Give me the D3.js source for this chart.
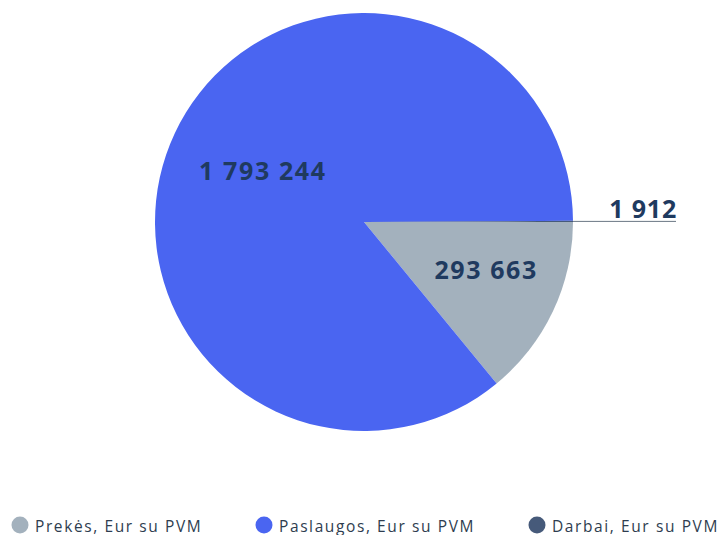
<!DOCTYPE html>
<html><head><meta charset="utf-8">
<script src="https://cdn.jsdelivr.net/npm/d3@7"></script>
<style>body{margin:0;background:#fff}svg{display:block}</style>
</head><body><svg id="c" width="722" height="535"></svg>
<script>
const categories = ["Prekės, Eur su PVM", "Paslaugos, Eur su PVM", "Darbai, Eur su PVM"];
const values = [293663, 1793244, 1912];
const labels = ["293 663", "1 793 244", "1 912"];
const colors = ["#a3b1bd", "#4a65f1", "#465a7a"];

const svg = d3.select("#c");
const cx = 364, cy = 222, R = 209;
const g = svg.append("g").attr("transform", `translate(${cx},${cy})`);
const pie = d3.pie().sort(null).value(d => d).startAngle(Math.PI/2).endAngle(Math.PI/2 + 2*Math.PI);
const arcs = pie(values);
const arc = d3.arc().innerRadius(0).outerRadius(R);
g.selectAll("path").data(arcs).join("path")
  .attr("d", arc).attr("fill", (d,i) => colors[i]);

const labelFont = "'Open Sans', sans-serif";
const radFac = [0.62, 0.54];
const nudge = [[5, -7], [1, -3]];
function lbl(sel) {
  return sel.attr("font-family", labelFont).attr("font-weight", 700).attr("font-size", 25)
    .attr("letter-spacing", 1.6).attr("fill", "#1f3a5f");
}
arcs.forEach((d, i) => {
  const a = (d.startAngle + d.endAngle)/2;
  if (i < 2) {
    const r = R * radFac[i];
    lbl(g.append("text")).attr("x", r*Math.sin(a) + nudge[i][0]).attr("y", -r*Math.cos(a) + nudge[i][1] + 9)
      .attr("text-anchor","middle").text(labels[i]);
  } else {
    const x0 = R*Math.sin(a), y0 = -R*Math.cos(a);
    g.append("line").attr("x1", x0).attr("y1", y0).attr("x2", 676-cx).attr("y2", y0)
      .attr("stroke", "#6b7785").attr("stroke-width", 1);
    lbl(g.append("text")).attr("x", 677-cx).attr("y", y0-3).attr("text-anchor","end")
      .attr("letter-spacing", 0.8).text(labels[i]);
  }
});

const legX = [20, 264, 537];
const leg = svg.append("g");
categories.forEach((c, i) => {
  leg.append("circle").attr("cx", legX[i]).attr("cy", 525).attr("r", 8.5).attr("fill", colors[i]);
  leg.append("text").attr("x", legX[i]+15).attr("y", 531.5)
    .attr("font-family", "'Open Sans', sans-serif").attr("font-size", 15.5).attr("letter-spacing", 1.6)
    .attr("fill", "#2e3d4f").text(c);
});
</script></body></html>
